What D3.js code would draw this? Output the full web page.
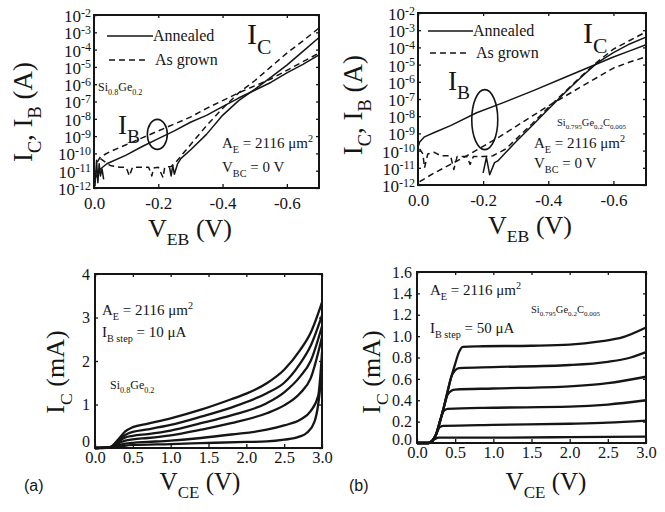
<!DOCTYPE html>
<html><head><meta charset="utf-8">
<script src="https://cdn.jsdelivr.net/npm/d3@7"></script>
<style>
body{margin:0;background:#fff}
svg{display:block}
text{font-family:"Liberation Serif","Times New Roman",serif;fill:#151515}
</style>
</head><body><svg id="c" width="665" height="512"></svg>
<script>
// ---------- tick definitions ----------
const vebTicks = [0, 0.2, 0.4, 0.6];
const vebTickLabels = ["0.0", "-0.2", "-0.4", "-0.6"];
const logTicks = [-2, -3, -4, -5, -6, -7, -8, -9, -10, -11, -12];
const vceTicks = [0, 0.5, 1, 1.5, 2, 2.5, 3];
const vceTickLabels = ["0.0", "0.5", "1.0", "1.5", "2.0", "2.5", "3.0"];
const icTicksA = [0, 1, 2, 3, 4];
const icTicksB = [0, 0.2, 0.4, 0.6, 0.8, 1.0, 1.2, 1.4, 1.6];
const icTickLabelsB = ["0.0", "0.2", "0.4", "0.6", "0.8", "1.0", "1.2", "1.4", "1.6"];

// ---------- panel (a) top: |V_EB| (V), log10 I (A) ----------
const a_IB_annealed = [[0.005,-11.4],[0.02,-10.9],[0.04,-10.6],[0.1,-10.1],[0.15,-9.6],[0.2,-9.15],[0.25,-8.7],[0.3,-8.2],[0.35,-7.8],[0.4,-7.3],[0.45,-6.8],[0.5,-6.35],[0.55,-5.9],[0.6,-5.35],[0.65,-4.85],[0.7,-4.3]];
const a_IC_annealed = [[0.235,-10.8],[0.24,-11.3],[0.245,-10.7],[0.25,-11.2],[0.26,-10.6],[0.27,-10.3],[0.3,-9.8],[0.35,-8.9],[0.4,-7.8],[0.45,-6.95],[0.5,-6.3],[0.55,-5.6],[0.6,-4.9],[0.65,-4.1],[0.7,-3.3]];
const a_noise_annealed = [[0.003,-11.9],[0.008,-10.4],[0.012,-11.7],[0.016,-10.6],[0.02,-11.3],[0.025,-10.9],[0.03,-11.5]];
const a_IB_grown = [[0.01,-10.5],[0.02,-10.2],[0.05,-9.9],[0.1,-9.5],[0.15,-9.1],[0.2,-8.7],[0.25,-8.3],[0.3,-7.9],[0.35,-7.4],[0.4,-6.95],[0.45,-6.5],[0.5,-6.1],[0.55,-5.7],[0.6,-5.2],[0.65,-4.7],[0.7,-4.2]];
const a_IC_grown = [[0.02,-10.3],[0.05,-10.7],[0.08,-10.8],[0.1,-10.8],[0.11,-11.3],[0.12,-10.8],[0.17,-10.8],[0.18,-11.3],[0.185,-10.85],[0.2,-10.8],[0.215,-11.4],[0.22,-10.8],[0.24,-10.75],[0.255,-10.5],[0.3,-9.5],[0.35,-8.4],[0.4,-7.4],[0.45,-6.5],[0.5,-5.8],[0.55,-5.0],[0.6,-4.2],[0.65,-3.5],[0.7,-2.75]];

// ---------- panel (b) top ----------
const b_IB_annealed = [[0.0,-9.8],[0.005,-9.5],[0.02,-9.2],[0.05,-8.95],[0.1,-8.55],[0.18,-7.8],[0.25,-7.3],[0.356,-6.5],[0.45,-5.75],[0.6,-4.56],[0.65,-4.2],[0.7,-3.85]];
const b_IC_annealed = [[0.2,-11.3],[0.21,-10.4],[0.22,-11.4],[0.235,-10.7],[0.245,-10.6],[0.27,-10.1],[0.3,-9.5],[0.35,-8.55],[0.4,-7.6],[0.45,-6.65],[0.5,-5.75],[0.55,-4.9],[0.6,-4.3],[0.65,-3.8],[0.7,-3.4]];
const b_IB_grown = [[0.005,-11.8],[0.05,-11.3],[0.1,-10.8],[0.15,-10.3],[0.2,-9.75],[0.25,-9.2],[0.3,-8.6],[0.35,-8.0],[0.4,-7.4],[0.45,-6.85],[0.5,-6.3],[0.55,-5.75],[0.6,-5.2],[0.65,-4.85],[0.7,-4.55]];
const b_IC_grown = [[0.005,-9.9],[0.015,-10.2],[0.02,-11.0],[0.03,-10.2],[0.05,-10.1],[0.07,-10.3],[0.1,-10.3],[0.11,-11.1],[0.12,-10.35],[0.15,-10.35],[0.16,-10.8],[0.17,-10.35],[0.2,-10.35],[0.23,-10.3],[0.27,-9.9],[0.3,-9.35],[0.35,-8.45],[0.4,-7.5],[0.45,-6.6],[0.5,-5.7],[0.55,-4.85],[0.6,-4.1],[0.65,-3.6],[0.7,-3.1]];

// ---------- panel (a) bottom: V_CE (V), I_C (mA), I_B step 10 uA ----------
const a_out1 = [[0,0],[0.2,0.02],[0.3,0.18],[0.4,0.38],[0.5,0.48],[0.7,0.56],[1.0,0.68],[1.4,0.88],[1.8,1.12],[2.0,1.25],[2.27,1.49],[2.5,1.8],[2.71,2.25],[2.85,2.65],[3.0,3.35]];
const a_out2 = [[0,0],[0.2,0.02],[0.3,0.16],[0.4,0.3],[0.5,0.37],[0.7,0.43],[1.0,0.53],[1.4,0.72],[1.8,0.93],[2.27,1.26],[2.5,1.5],[2.71,1.94],[2.85,2.35],[3.0,3.05]];
const a_out3 = [[0,0],[0.2,0.02],[0.3,0.13],[0.4,0.24],[0.5,0.28],[0.7,0.32],[1.0,0.4],[1.4,0.57],[1.8,0.75],[2.27,1.03],[2.5,1.28],[2.71,1.64],[2.85,2.0],[3.0,2.8]];
const a_out4 = [[0,0],[0.2,0.01],[0.3,0.1],[0.4,0.17],[0.5,0.2],[0.7,0.23],[1.0,0.29],[1.4,0.42],[1.8,0.57],[2.27,0.8],[2.5,0.98],[2.71,1.26],[2.85,1.6],[3.0,2.55]];
const a_out5 = [[0,0],[0.2,0.01],[0.3,0.06],[0.4,0.1],[0.5,0.12],[0.7,0.14],[1.0,0.17],[1.4,0.23],[1.8,0.31],[2.27,0.42],[2.5,0.52],[2.71,0.65],[2.85,0.85],[2.95,1.2],[3.0,2.2]];
const a_out6 = [[0,0],[0.2,0.01],[0.3,0.03],[0.5,0.07],[1.0,0.09],[1.39,0.11],[2.0,0.14],[2.27,0.15],[2.5,0.19],[2.7,0.26],[2.8,0.35],[2.9,0.6],[2.95,1.0],[3.0,1.8]];

// ---------- panel (b) bottom: I_B step 50 uA ----------
const b_out1 = [[0,0],[0.15,0],[0.2,0.02],[0.25,0.08],[0.3,0.2],[0.35,0.33],[0.4,0.48],[0.45,0.62],[0.5,0.74],[0.55,0.85],[0.6,0.9],[0.8,0.905],[1.5,0.91],[2.0,0.92],[2.4,0.95],[2.7,0.99],[3.0,1.08]];
const b_out2 = [[0,0],[0.15,0],[0.2,0.02],[0.25,0.08],[0.3,0.2],[0.35,0.33],[0.4,0.48],[0.45,0.62],[0.5,0.68],[0.55,0.7],[1.0,0.71],[2.0,0.73],[2.5,0.76],[2.8,0.8],[3.0,0.85]];
const b_out3 = [[0,0],[0.15,0],[0.2,0.02],[0.25,0.08],[0.3,0.2],[0.35,0.33],[0.4,0.45],[0.45,0.49],[0.5,0.5],[1.0,0.51],[2.0,0.53],[2.5,0.56],[3.0,0.62]];
const b_out4 = [[0,0],[0.15,0],[0.2,0.02],[0.25,0.08],[0.3,0.2],[0.35,0.3],[0.4,0.32],[1.0,0.33],[2.0,0.34],[2.5,0.36],[3.0,0.4]];
const b_out5 = [[0,0],[0.15,0],[0.2,0.02],[0.25,0.08],[0.3,0.15],[0.35,0.16],[1.0,0.17],[2.0,0.18],[2.5,0.19],[3.0,0.21]];
const b_out6 = [[0,0],[0.15,0],[0.2,0.02],[0.22,0.03],[0.28,0.05],[1.0,0.05],[2.0,0.055],[3.0,0.06]];

// ---------- helpers ----------
const svg = d3.select("#c");
const INK = "#151515";

function rich(parent, x, y, parts, fs, opt) {
  opt = opt || {};
  const t = parent.append("text").attr("x", x).attr("y", y).attr("font-size", fs)
    .attr("text-anchor", opt.anchor || "start");
  if (opt.rotate) t.attr("transform", `rotate(${opt.rotate},${x},${y})`);
  let cur = 0;
  parts.forEach(p => {
    const s = p[0], k = p[1] || "n";
    const off = k === "sub" ? 0.32 * fs : k === "sup" ? -0.42 * fs : 0;
    const ts = t.append("tspan").attr("dy", off - cur).text(s);
    if (k !== "n") ts.attr("font-size", (opt.subScale || 0.68) * fs);
    cur = off;
  });
  return t;
}

function frame(g, box) {
  g.append("rect").attr("x", box.l).attr("y", box.t).attr("width", box.r - box.l).attr("height", box.b - box.t)
    .attr("fill", "none").attr("stroke", INK).attr("stroke-width", 2);
}

function styleAxis(ax, fs) {
  ax.select(".domain").remove();
  ax.selectAll(".tick line").attr("stroke", INK).attr("stroke-width", 1.3);
  ax.selectAll(".tick text").attr("font-family", "Liberation Serif, serif").attr("font-size", fs).attr("fill", INK);
}

function logPanel(box, series, ann) {
  const g = svg.append("g");
  const x = d3.scaleLinear().domain([0, 0.7]).range([box.l, box.r]);
  const y = d3.scaleLog().domain([1e-12, 1e-2]).range([box.b, box.t]);
  const line = d3.line().x(d => x(d[0])).y(d => y(Math.pow(10, d[1])));
  const xb = g.append("g").attr("transform", `translate(0,${box.b})`)
    .call(d3.axisBottom(x).tickValues(vebTicks).tickFormat((d, i) => vebTickLabels[i]).tickSizeInner(-4).tickSizeOuter(0).tickPadding(9));
  styleAxis(xb, 17);
  const xt = g.append("g").attr("transform", `translate(0,${box.t})`)
    .call(d3.axisTop(x).tickValues(vebTicks).tickFormat("").tickSizeInner(-3).tickSizeOuter(0));
  styleAxis(xt, 10);
  const yl = g.append("g").attr("transform", `translate(${box.l},0)`)
    .call(d3.axisLeft(y).tickValues(logTicks.map(e => Math.pow(10, e))).tickFormat("").tickSizeInner(-3).tickSizeOuter(0).tickPadding(3));
  styleAxis(yl, 17);
  yl.selectAll(".tick text").each(function (d) {
    const t = d3.select(this);
    const e = Math.round(Math.log10(d));
    t.attr("dy", "0.38em").attr("x", -3);
    t.append("tspan").text("10");
    t.append("tspan").attr("dy", "-0.45em").attr("font-size", 12).text(String(e));
  });
  const yr = g.append("g").attr("transform", `translate(${box.r},0)`)
    .call(d3.axisRight(y).tickValues(logTicks.map(e => Math.pow(10, e))).tickFormat("").tickSizeInner(-3).tickSizeOuter(0));
  styleAxis(yr, 10);
  frame(g, box);
  series.forEach(s => {
    g.append("path").datum(s.data).attr("d", line).attr("fill", "none").attr("stroke", INK)
      .attr("stroke-width", 1.5).attr("stroke-dasharray", s.dashed ? "6,4" : null).attr("stroke-linejoin", "round");
  });
  g.append("ellipse").attr("cx", x(ann.ell[0])).attr("cy", y(Math.pow(10, ann.ell[1])))
    .attr("rx", ann.ell[2]).attr("ry", ann.ell[3]).attr("fill", "none").attr("stroke", INK).attr("stroke-width", 1.6);
  return { g, x, y };
}

function linPanel(box, ymax, yTicks, yLabels, series, zeroDy) {
  const g = svg.append("g");
  const x = d3.scaleLinear().domain([0, 3]).range([box.l, box.r]);
  const y = d3.scaleLinear().domain([0, ymax]).range([box.b, box.t]);
  const line = d3.line().x(d => x(d[0])).y(d => y(d[1])).curve(d3.curveMonotoneX);
  const xb = g.append("g").attr("transform", `translate(0,${box.b})`)
    .call(d3.axisBottom(x).tickValues(vceTicks).tickFormat((d, i) => vceTickLabels[i]).tickSizeInner(-4).tickSizeOuter(0).tickPadding(3));
  styleAxis(xb, 16.5);
  const xt = g.append("g").attr("transform", `translate(0,${box.t})`)
    .call(d3.axisTop(x).tickValues(vceTicks).tickFormat("").tickSizeInner(-3).tickSizeOuter(0));
  styleAxis(xt, 10);
  const yl = g.append("g").attr("transform", `translate(${box.l},0)`)
    .call(d3.axisLeft(y).tickValues(yTicks).tickFormat((d, i) => yLabels[i]).tickSizeInner(-3).tickSizeOuter(0).tickPadding(5));
  styleAxis(yl, 16);
  // nudge the zero label so it does not sit on the x "0.0"
  yl.selectAll(".tick text").filter(d => d === 0).attr("dy", zeroDy);
  const yr = g.append("g").attr("transform", `translate(${box.r},0)`)
    .call(d3.axisRight(y).tickValues(yTicks).tickFormat("").tickSizeInner(-3).tickSizeOuter(0));
  styleAxis(yr, 10);
  frame(g, box);
  series.forEach(s => {
    g.append("path").datum(s).attr("d", line).attr("fill", "none").attr("stroke", INK)
      .attr("stroke-width", 2.3).attr("stroke-linejoin", "round");
  });
  return { g, x, y };
}

// ---------- top-left ----------
const boxTL = { l: 94, r: 319, t: 15, b: 188 };
logPanel(boxTL, [
  { data: a_IB_annealed }, { data: a_IC_annealed }, { data: a_noise_annealed },
  { data: a_IB_grown, dashed: true }, { data: a_IC_grown, dashed: true }
], { ell: [0.197, -8.9, 10, 15] });

// ---------- top-right ----------
const boxTR = { l: 418, r: 646, t: 13, b: 185 };
logPanel(boxTR, [
  { data: b_IB_annealed }, { data: b_IC_annealed },
  { data: b_IB_grown, dashed: true }, { data: b_IC_grown, dashed: true }
], { ell: [0.205, -8.2, 13, 30] });

// ---------- bottom-left ----------
const boxBL = { l: 95, r: 322, t: 274, b: 448 };
linPanel(boxBL, 4, icTicksA, icTicksA.map(String), [a_out1, a_out2, a_out3, a_out4, a_out5, a_out6], "-0.12em");

// ---------- bottom-right ----------
const boxBR = { l: 417, r: 646, t: 272, b: 443 };
linPanel(boxBR, 1.6, icTicksB, icTickLabelsB, [b_out1, b_out2, b_out3, b_out4, b_out5, b_out6], "0.1em");

// ---------- texts ----------
const T = svg.append("g");
[[107, 153, 36, 155, 60], [428, 473, 31, 476, 53]].forEach(([x0, x1, y1, xt2, y2]) => {
  T.append("line").attr("x1", x0).attr("x2", x1).attr("y1", y1).attr("y2", y1).attr("stroke", INK).attr("stroke-width", 1.5);
  T.append("text").attr("x", x1).attr("y", y1 + 5).attr("font-size", 16).text("Annealed");
  T.append("line").attr("x1", x0 + 2).attr("x2", x1 - 5).attr("y1", y2).attr("y2", y2).attr("stroke", INK).attr("stroke-width", 1.5).attr("stroke-dasharray", "6,4");
  T.append("text").attr("x", xt2).attr("y", y2 + 5).attr("font-size", 16).text("As grown");
});
// TL annotations
rich(T, 247, 44, [["I"], ["C", "sub"]], 30, { subScale: 0.72 });
rich(T, 98, 91, [["Si"], ["0.8", "sub"], ["Ge"], ["0.2", "sub"]], 12);
rich(T, 118, 134, [["I"], ["B", "sub"]], 27, { subScale: 0.72 });
rich(T, 222, 148, [["A"], ["E", "sub"], [" = 2116 \u03bcm"], ["2", "sup"]], 15);
rich(T, 222, 172, [["V"], ["BC", "sub"], [" = 0 V"]], 15);
rich(T, 32, 112, [["I"], ["C", "sub"], [", I"], ["B", "sub"], [" (A)"]], 27, { anchor: "middle", rotate: -90 });
rich(T, 190, 237, [["V"], ["EB", "sub"], [" (V)"]], 26, { anchor: "middle" });
// TR annotations
rich(T, 583, 43, [["I"], ["C", "sub"]], 30, { subScale: 0.72 });
rich(T, 448, 90, [["I"], ["B", "sub"]], 27, { subScale: 0.72 });
rich(T, 557, 126, [["Si"], ["0.795", "sub"], ["Ge"], ["0.2", "sub"], ["C"], ["0.005", "sub"]], 10.5);
rich(T, 534, 148, [["A"], ["E", "sub"], [" = 2116 \u03bcm"], ["2", "sup"]], 15);
rich(T, 534, 168, [["V"], ["BC", "sub"], [" = 0 V"]], 15);
rich(T, 362, 105, [["I"], ["C", "sub"], [", I"], ["B", "sub"], [" (A)"]], 27, { anchor: "middle", rotate: -90 });
rich(T, 530, 234, [["V"], ["EB", "sub"], [" (V)"]], 26, { anchor: "middle" });
// BL annotations
rich(T, 102, 315, [["A"], ["E", "sub"], [" = 2116 \u03bcm"], ["2", "sup"]], 15);
rich(T, 102, 337, [["I"], ["B step", "sub"], [" = 10 \u03bcA"]], 15);
rich(T, 110, 389, [["Si"], ["0.8", "sub"], ["Ge"], ["0.2", "sub"]], 12);
rich(T, 64, 372, [["I"], ["C", "sub"], [" (mA)"]], 26, { anchor: "middle", rotate: -90 });
rich(T, 200, 490, [["V"], ["CE", "sub"], [" (V)"]], 25, { anchor: "middle" });
T.append("text").attr("x", 24).attr("y", 491).attr("font-size", 16).style("font-family", "Liberation Sans, Arial, sans-serif").text("(a)");
// BR annotations
rich(T, 430, 295, [["A"], ["E", "sub"], [" = 2116 \u03bcm"], ["2", "sup"]], 15);
rich(T, 531, 313, [["Si"], ["0.795", "sub"], ["Ge"], ["0.2", "sub"], ["C"], ["0.005", "sub"]], 10.5);
rich(T, 430, 333, [["I"], ["B step", "sub"], [" = 50 \u03bcA"]], 15);
rich(T, 380, 372, [["I"], ["C", "sub"], [" (mA)"]], 26, { anchor: "middle", rotate: -90 });
rich(T, 546, 490, [["V"], ["CE", "sub"], [" (V)"]], 25, { anchor: "middle" });
T.append("text").attr("x", 349).attr("y", 491).attr("font-size", 16).style("font-family", "Liberation Sans, Arial, sans-serif").text("(b)");
</script></body></html>
